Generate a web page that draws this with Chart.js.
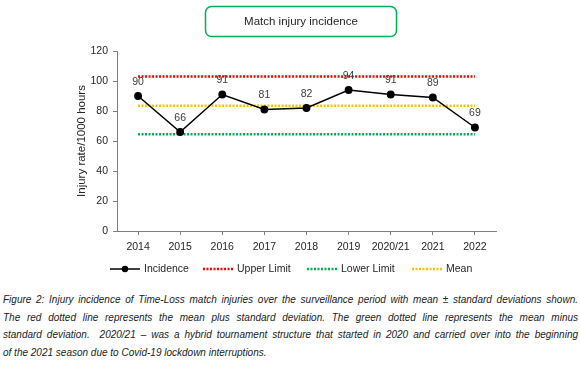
<!DOCTYPE html>
<html>
<head>
<meta charset="utf-8">
<script src="https://cdn.jsdelivr.net/npm/chart.js@4"></script>
<style>
  html, body { margin: 0; padding: 0; background: #fff; }
  #wrap { position: relative; width: 580px; height: 366px; }
  #chart { position: absolute; left: 0; top: 0; }
  #caption {
    position: absolute; left: 3px; top: 291px; width: 575px;
    font-family: "Liberation Sans", Arial, sans-serif; font-style: italic;
    font-size: 10px; line-height: 17.5px; color: #222;
  }
  #caption div { white-space: nowrap; text-align: justify; text-align-last: justify; }
  #caption div.last { text-align-last: left; }
</style>
</head>
<body>
<div id="wrap">
  <canvas id="chart" width="580" height="290"></canvas>
  <div id="caption">
    <div>Figure 2: Injury incidence of Time-Loss match injuries over the surveillance period with mean ± standard deviations shown.</div>
    <div>The red dotted line represents the mean plus standard deviation. The green dotted line represents the mean minus</div>
    <div>standard deviation.&nbsp; 2020/21 – was a hybrid tournament structure that started in 2020 and carried over into the beginning</div>
    <div class="last">of the 2021 season due to Covid-19 lockdown interruptions.</div>
  </div>
</div>
<script>
// values
const seasons = ['2014', '2015', '2016', '2017', '2018', '2019', '2020/21', '2021', '2022'];
const incidence = [90, 66, 91, 81, 82, 94, 91, 89, 69];
const upperLimit = [103, 103, 103, 103, 103, 103, 103, 103, 103];
const lowerLimit = [64.5, 64.5, 64.5, 64.5, 64.5, 64.5, 64.5, 64.5, 64.5];
const meanLine = [83.5, 83.5, 83.5, 83.5, 83.5, 83.5, 83.5, 83.5, 83.5];
const yTicks = [0, 20, 40, 60, 80, 100, 120];

const FONT = '"Liberation Sans", Arial, sans-serif';
const TEXT = '#262626';

const dotted = (label, data, color) => ({
    label: label,
    data: data,
    borderColor: color,
    borderWidth: 2.5,
    borderDash: [2, 1.5],
    borderCapStyle: 'butt',
    pointRadius: 0,
    fill: false,
    order: 2
});

// title box, axis title, value labels and the legend
const decorations = {
    id: 'decorations',
    afterDatasetsDraw(chart) {
        const ctx = chart.ctx;
        const meta = chart.getDatasetMeta(0);
        ctx.save();
        ctx.font = '10.5px ' + FONT;
        ctx.fillStyle = '#404040';
        ctx.textAlign = 'center';
        ctx.textBaseline = 'middle';
        meta.data.forEach((pt, i) => {
            ctx.fillText(String(incidence[i]), pt.x, pt.y - 14);
        });
        ctx.restore();
    },
    afterDraw(chart) {
        const ctx = chart.ctx;
        const area = chart.chartArea;
        ctx.save();

        // title box
        ctx.strokeStyle = '#00b050';
        ctx.lineWidth = 1.5;
        ctx.beginPath();
        ctx.roundRect(205.5, 6.5, 191, 30, 6);
        ctx.stroke();
        ctx.fillStyle = TEXT;
        ctx.font = '11.5px ' + FONT;
        ctx.textAlign = 'center';
        ctx.textBaseline = 'middle';
        ctx.fillText('Match injury incidence', 301, 21.5);

        // y axis title
        ctx.save();
        ctx.translate(82, (area.top + area.bottom) / 2);
        ctx.rotate(-Math.PI / 2);
        ctx.font = '11.5px ' + FONT;
        ctx.fillText('Injury rate/1000 hours', 0, 0);
        ctx.restore();

        // legend
        const items = [
            { x: 110, text: 'Incidence', color: '#000', marker: true },
            { x: 203, text: 'Upper Limit', color: '#ff0000' },
            { x: 307, text: 'Lower Limit', color: '#00b050' },
            { x: 412, text: 'Mean', color: '#ffc000' }
        ];
        const ly = 269;
        ctx.font = '10.5px ' + FONT;
        ctx.textAlign = 'left';
        items.forEach(it => {
            ctx.beginPath();
            ctx.strokeStyle = it.color;
            if (it.marker) {
                ctx.lineWidth = 1.5;
                ctx.setLineDash([]);
            } else {
                ctx.lineWidth = 2.5;
                ctx.setLineDash([2, 1.5]);
            }
            ctx.moveTo(it.x, ly);
            ctx.lineTo(it.x + 30, ly);
            ctx.stroke();
            ctx.setLineDash([]);
            if (it.marker) {
                ctx.beginPath();
                ctx.fillStyle = '#000';
                ctx.arc(it.x + 15, ly, 3.2, 0, Math.PI * 2);
                ctx.fill();
            }
            ctx.fillStyle = TEXT;
            ctx.fillText(it.text, it.x + 34, ly);
        });
        ctx.restore();
    }
};

new Chart(document.getElementById('chart'), {
    type: 'line',
    data: {
        labels: seasons,
        datasets: [
            {
                label: 'Incidence',
                data: incidence,
                borderColor: '#000',
                borderWidth: 1.5,
                pointRadius: 3.2,
                pointBackgroundColor: '#000',
                pointBorderColor: '#000',
                tension: 0,
                fill: false,
                order: 1
            },
            dotted('Upper Limit', upperLimit, '#ff0000'),
            dotted('Lower Limit', lowerLimit, '#00b050'),
            dotted('Mean', meanLine, '#ffc000')
        ]
    },
    options: {
        responsive: false,
        animation: false,
        layout: { padding: { top: 51, right: 84, bottom: 0, left: 0 } },
        plugins: {
            legend: { display: false },
            title: { display: false },
            tooltip: { enabled: false }
        },
        scales: {
            x: {
                offset: true,
                grid: {
                    offset: false,
                    drawOnChartArea: false,
                    drawTicks: true,
                    tickLength: 4,
                    color: '#7f7f7f'
                },
                border: { color: '#7f7f7f', width: 1 },
                ticks: {
                    color: TEXT,
                    font: { family: FONT, size: 10.5 },
                    padding: 6,
                    maxRotation: 0
                },
                afterFit(scale) { scale.height = 59; }
            },
            y: {
                min: 0,
                max: 120,
                afterBuildTicks(scale) { scale.ticks = yTicks.map(v => ({ value: v })); },
                grid: {
                    drawOnChartArea: false,
                    drawTicks: true,
                    tickLength: 4,
                    color: '#7f7f7f'
                },
                border: { color: '#7f7f7f', width: 1 },
                ticks: {
                    color: TEXT,
                    font: { family: FONT, size: 10.5 },
                    padding: 5
                },
                afterFit(scale) { scale.width = 117; }
            }
        }
    },
    plugins: [decorations]
});
</script>
</body>
</html>
